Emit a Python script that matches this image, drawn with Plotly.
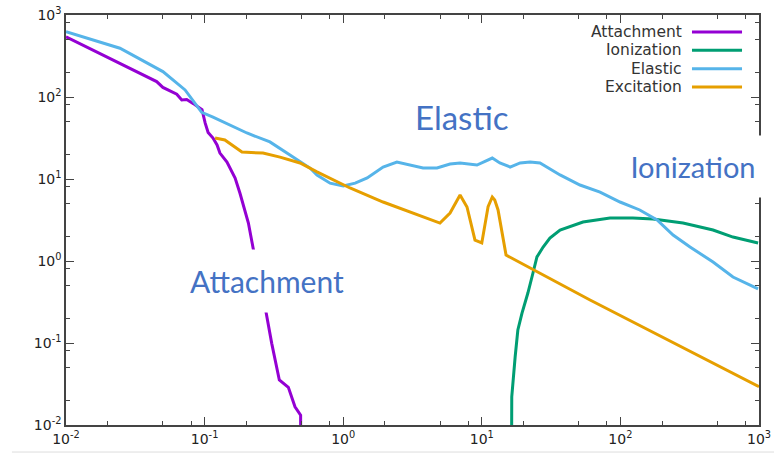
import plotly.graph_objects as go

# ---- data ----
attach_x = [0.01, 0.0342, 0.0451, 0.050, 0.063, 0.0684, 0.0743, 0.083, 0.0958, 0.101, 0.106,
            0.115, 0.123, 0.129, 0.145, 0.166, 0.180, 0.207, 0.224, 0.273, 0.305, 0.346,
            0.402, 0.449, 0.493, 0.493]
attach_y = [543, 195, 154, 131, 108, 92, 93, 83, 70, 48, 37,
            31.6, 26, 20.7, 16.1, 10.3, 6.7, 2.9, 1.43, 0.277, 0.099, 0.0354,
            0.0288, 0.0167, 0.0132, 0.005]

ion_x = [16.4, 16.45, 17.4, 18.2, 19.5, 21.5, 23.4, 25.0, 27.7, 31.0, 36.7, 53.7, 84.1,
         123, 172, 283, 466, 649, 985]
ion_y = [0.005, 0.022, 0.0675, 0.144, 0.232, 0.407, 0.714, 1.12, 1.48, 1.9, 2.39, 2.99, 3.34,
         3.34, 3.25, 2.90, 2.39, 1.96, 1.66]

elastic_x = [0.01, 0.0245, 0.05, 0.0723, 0.0953, 0.115, 0.202, 0.296, 0.413, 0.576, 0.647,
             0.804, 1.0, 1.22, 1.49, 1.94, 2.44, 3.03, 3.77, 4.75, 5.9, 6.97, 9.23, 11.9,
             13.5, 16.0, 18.9, 22.3, 26.3, 36.7, 51.1, 71.3, 99.4, 138, 184, 240, 318,
             466, 649, 985]
elastic_y = [625, 393, 204, 122, 65, 57, 36.4, 28.3, 19.6, 13.6, 11.2,
             8.9, 8.2, 8.9, 10.3, 14.0, 16.1, 14.8, 13.6, 13.6, 15.2, 15.7, 14.8, 18.0,
             15.7, 14.0, 15.7, 16.1, 15.7, 11.2, 8.45, 6.93, 5.24, 4.19, 3.16, 2.07, 1.48,
             0.973, 0.638, 0.456]

excit_x = [0.119, 0.140, 0.186, 0.264, 0.350, 0.488, 0.647, 0.843, 1.12, 1.94, 3.41, 4.99,
           5.90, 6.97, 7.82, 8.45, 8.93, 10.0, 10.5, 11.1, 11.9, 12.4, 13.1, 13.9, 14.96,
           60.4, 1000]
excit_y = [31.6, 29.9, 21.3, 20.7, 18.5, 15.7, 12.2, 9.72, 7.77, 5.24, 3.64, 2.90,
           3.84, 6.38, 4.56, 2.62, 1.80, 1.66, 2.60, 4.59, 6.03, 5.55, 4.19, 2.39, 1.18,
           0.334, 0.0293]

series_names = ["Attachment", "Ionization", "Elastic", "Excitation"]
series_colors = ["#9400D3", "#009E73", "#56B4E9", "#E69F00"]

decades = [-2, -1, 0, 1, 2, 3]
tick_vals = [10 ** d for d in decades]
tick_text = ["10<sup>%d</sup>" % d for d in decades]
minor_vals = [m * 10 ** d for d in decades[:-1] for m in (2, 5, 8)]

series = [(attach_x, attach_y), (ion_x, ion_y), (elastic_x, elastic_y), (excit_x, excit_y)]

fig = go.Figure()
for (xs, ys), name, col in zip(series, series_names, series_colors):
    fig.add_trace(go.Scatter(x=xs, y=ys, mode="lines", name=name,
                             line=dict(color=col, width=3), showlegend=False))

axis_common = dict(
    type="log", range=[-2, 3], showgrid=False, zeroline=False, automargin=False,
    showline=True, linecolor="#444", linewidth=1.5, mirror="ticks",
    ticks="inside", ticklen=8, tickwidth=1.3, tickcolor="#444",
    tickmode="array", tickvals=tick_vals, ticktext=tick_text,
    ticklabeloverflow="allow",
    tickfont=dict(family="DejaVu Sans", size=14, color="#222"),
    minor=dict(tickmode="array", tickvals=minor_vals, ticks="inside",
               ticklen=4, tickwidth=1.3, tickcolor="#444", showgrid=False),
)
fig.update_xaxes(**axis_common)
fig.update_yaxes(**axis_common)

annotations = []
shapes = []
# custom legend (text right-aligned, sample line on the right)
leg_y = [0.9585, 0.9139, 0.869, 0.8244]
for name, col, yy in zip(series_names, series_colors, leg_y):
    annotations.append(dict(xref="paper", yref="paper", x=0.8918, y=yy, xanchor="right",
                            yanchor="middle", text=name, showarrow=False,
                            font=dict(family="DejaVu Sans", size=15.5, color="#333")))
    shapes.append(dict(type="line", xref="paper", yref="paper", x0=0.9033, x1=0.9755,
                       y0=yy, y1=yy, line=dict(color=col, width=3)))

label_font = dict(family="Lato", color="#4472C4")
annotations.append(dict(xref="paper", yref="paper", x=0.5714, y=0.752, text="Elastic",
                        xanchor="center", yanchor="middle",
                        showarrow=False, font=dict(size=33, **label_font)))
annotations.append(dict(xref="paper", yref="paper", x=0.290, y=0.351, text="Attachment",
                        xanchor="center", yanchor="middle",
                        showarrow=False, bgcolor="white", width=180, height=60,
                        font=dict(size=30, **label_font)))
annotations.append(dict(xref="paper", yref="paper", x=0.9053, y=0.6317, text="Ionization",
                        xanchor="center", yanchor="middle",
                        showarrow=False, bgcolor="white", width=152, height=59,
                        font=dict(size=29, **label_font)))

shapes.append(dict(type="line", xref="paper", yref="paper", x0=-0.078, x1=1.03,
                   y0=-0.0659, y1=-0.0659, line=dict(color="#dddddd", width=1)))

fig.update_layout(
    width=774, height=462,
    margin=dict(l=66, r=15, t=15, b=37),
    paper_bgcolor="white", plot_bgcolor="white",
    annotations=annotations, shapes=shapes, showlegend=False,
)

# remove the page's default 8px body margin so the figure fills the window
fig.write_html("out.html",
               config={"displayModeBar": False},
               post_script="document.body.style.margin='0';document.body.style.overflow='hidden';")
